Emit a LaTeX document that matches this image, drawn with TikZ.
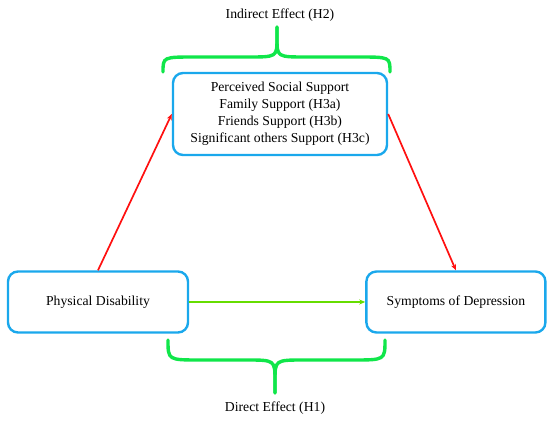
\documentclass[tikz,border=0pt]{standalone}
\usepackage{fontspec}
\setmainfont{Liberation Serif}
\usepackage{tikz}
\usetikzlibrary{positioning,arrows.meta}
\definecolor{boxblue}{HTML}{1AA8EC}
\definecolor{bracegreen}{HTML}{10E64A}
\definecolor{directgreen}{HTML}{66DD00}
\definecolor{pathred}{HTML}{FF1010}

\begin{document}
\begin{tikzpicture}[x=1pt,y=1pt,
  box/.style={draw=boxblue,line width=2.4pt,rounded corners=10pt,fill=white,font=\fontsize{13.7}{17}\selectfont,align=center,inner sep=0pt},
  lbl/.style={font=\fontsize{13.7}{16}\selectfont},
  redarr/.style={-{Stealth[length=6pt,width=5pt]},pathred,line width=1.7pt},
  greenarr/.style={-{Stealth[length=6pt,width=5pt]},directgreen,line width=1.5pt},
  brc/.style={bracegreen,line width=3.4pt,line cap=round}
]
\useasboundingbox (0,0) rectangle (550,421);

\node[box,minimum width=214pt,minimum height=82pt] (med) at (280,307)
  {Perceived Social Support\\Family Support (H3a)\\Friends Support (H3b)\\Significant others Support (H3c)};
\node[box,minimum width=180pt,minimum height=61pt] (pd) at (98,119) {Physical Disability};
\node[box,minimum width=179pt,minimum height=61pt,right=176pt of pd] (dep) {Symptoms of Depression};

\draw[redarr] (pd.north) -- (med.west);
\draw[redarr] (med.east) -- (dep.north);
\draw[greenarr] (pd) -- (dep);

% braces
\coordinate (itip) at (277,394);
\coordinate (dtip) at (275,28);
\draw[brc] (163,349) .. controls (163,364) .. (195,364) -- (248,364)
  .. controls (277,364) .. (277,383) -- (itip);
\draw[brc] (390,349) .. controls (390,364) .. (358,364) -- (306,364)
  .. controls (277,364) .. (277,383) -- (itip);
\draw[brc] (168,81) .. controls (168,61) .. (200,61) -- (246,61)
  .. controls (275,61) .. (275,40) -- (dtip);
\draw[brc] (385,81) .. controls (385,61) .. (353,61) -- (304,61)
  .. controls (275,61) .. (275,40) -- (dtip);

\node[lbl] (ind) at (280,406) {Indirect Effect (H2)};
\node[lbl] (dir) at (275,13) {Direct Effect (H1)};
\end{tikzpicture}
\end{document}
